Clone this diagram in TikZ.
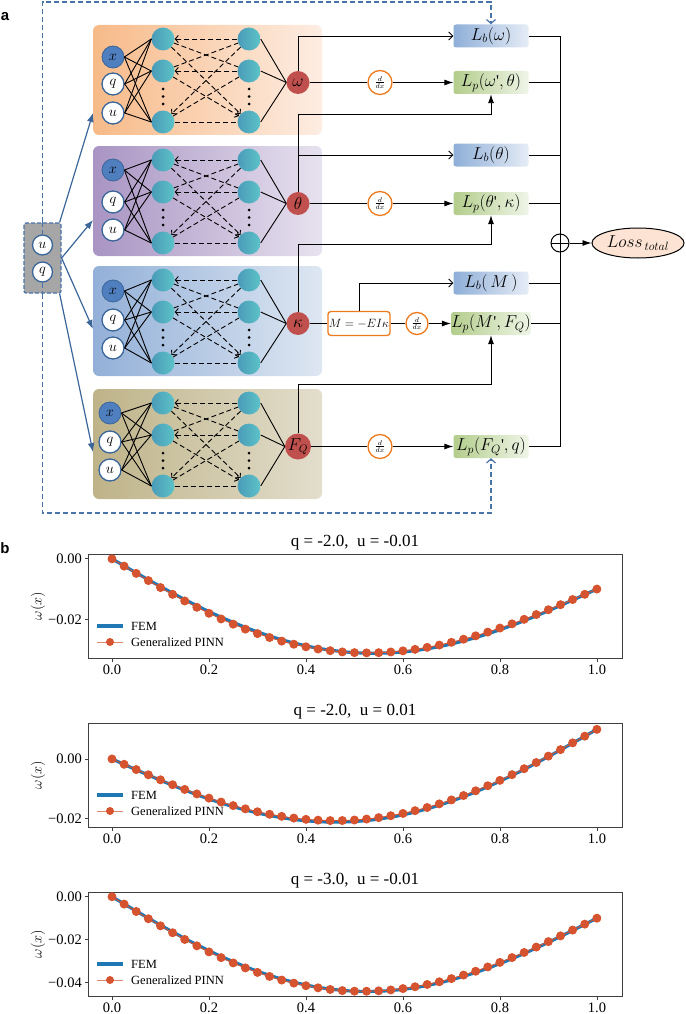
\documentclass[tikz,border=0pt]{standalone}
\usepackage{fontspec}
\setmainfont{Liberation Serif}
\newfontfamily\sansfont{Liberation Sans}
\usetikzlibrary{arrows.meta,shapes.geometric,calc}

\definecolor{orL}{HTML}{F7BA88}
\definecolor{orR}{HTML}{FDEDE3}
\definecolor{puL}{HTML}{A994C3}
\definecolor{puR}{HTML}{E7E2EF}
\definecolor{blL}{HTML}{93B0D8}
\definecolor{blR}{HTML}{DEE7F2}
\definecolor{olL}{HTML}{BEB388}
\definecolor{olR}{HTML}{E3DECD}
\definecolor{tealL}{HTML}{4A9BB8}
\definecolor{tealR}{HTML}{5CC3C8}
\definecolor{inblue}{HTML}{4F7FBF}
\definecolor{bord}{HTML}{3B6699}
\definecolor{outred}{HTML}{C0504D}
\definecolor{lbL}{HTML}{8FAFD8}
\definecolor{lbR}{HTML}{E5ECF6}
\definecolor{lpL}{HTML}{B3CD8C}
\definecolor{lpR}{HTML}{EFF5E7}
\definecolor{dorange}{HTML}{EE7A1E}
\definecolor{dashblue}{HTML}{4A73A8}
\definecolor{lossfill}{HTML}{FCE3D3}
\definecolor{femblue}{HTML}{1F77B4}
\definecolor{pinnred}{HTML}{D6532F}
\definecolor{boxgray}{HTML}{A6A6A6}
\definecolor{pfcol}{HTML}{404040}

\newcommand{\nnpanel}[9]{%
  % #1 prefix, #2 panel top, #3/#4 colours, #5 input x, #6-#8 input y, #9 output label
  \node[panelbox, left color=#3, right color=#4] (#1bg) at (207.5,{#2+55}) {};
  \foreach \k/\dy in {1/14,2/46,3/97} {
    \node[neuron] (#1a\k) at (163,{#2+\dy}) {};
    \node[neuron] (#1b\k) at (249,{#2+\dy}) {};
  }
  \foreach \dd in {64,71.5,79} {
    \fill (163,{#2+\dd}) circle (1.5pt);
    \fill (249,{#2+\dd}) circle (1.5pt);
  }
  \node[inx] (#1x) at (#5,#6) {$x$};
  \node[inw] (#1q) at (#5,#7) {$q$};
  \node[inw] (#1u) at (#5,#8) {$u$};
  \node[outn] (#1o) at (298,{#2+57.5}) {#9};
  \foreach \i in {x,q,u} {
    \foreach \k in {1,2,3} {
      \draw[conn] (#1\i.east) -- (#1a\k.west);
    }
  }
  \draw[dconn, dtip] (#1b1) -- (#1a1);
  \draw[dconn, dtip] (#1b2) -- (#1a2);
  \draw[dconn] (#1a3) -- (#1b3);
  \draw[dconn] (#1a1) -- (#1b2);
  \draw[dconn, dtip] (#1a1) -- (#1b3);
  \draw[dconn] (#1a2) -- (#1b1);
  \draw[dconn, dtip] (#1a2) -- (#1b3);
  \draw[dconn, dtip] (#1b1) -- (#1a3);
  \draw[dconn] (#1a3) -- (#1b2);
  \foreach \k in {1,2,3} {
    \draw[conn] (#1b\k.east) -- (#1o.west);
  }
}

\newcommand{\wplot}[8]{%
  % #1 frame top, #2 ymax, #3 px per unit, #4 q, #5 u, #6 title, #7 deviation, #8 y ticks
  \begin{scope}[declare function={PX(\s)=112+485*\s; PY(\v)=#1+((#2)-\v)*(#3);
      fw(\s)=(#4)/24*(\s*\s*\s*\s-2*\s*\s*\s+\s)+(#5)*\s; dv(\s)=#7;}]
    \node[ptitle] at (355,{#1-11}) {#6};
    \draw[pframe] (88,#1) rectangle (622,{#1+104});
    \foreach \tk in {0.0,0.2,0.4,0.6,0.8,1.0} {
      \draw[pframe] ({PX(\tk)},{#1+104}) -- ++(0,3.5);
      \node[ticklab, anchor=north] at ({PX(\tk)},{#1+111}) {\tk};
    }
    \foreach \vv/\ll in {#8} {
      \draw[pframe] (88,{PY(\vv)}) -- ++(-3.5,0);
      \node[ticklab, anchor=east] at (82,{PY(\vv)}) {\ll};
    }
    \node[ylab, rotate=90] at (38,{#1+52}) {$\omega(x)$};
    \draw[femline] plot[domain=0:1, samples=81] ({PX(\x)},{PY(fw(\x))});
    \draw[pinnline, mark=*, mark size=4pt, mark options={fill=pinnred, draw=pinnred}]
      plot[domain=0:1, samples=41] ({PX(\x)},{PY(fw(\x)+dv(\x))});
    \draw[femline] (97,{#1+72}) -- (123,{#1+72});
    \node[leg, anchor=west] at (131,{#1+72}) {FEM};
    \draw[pinnred!70, line width=0.9pt] (97,{#1+88}) -- (123,{#1+88});
    \fill[pinnred] (110,{#1+88}) circle (4pt);
    \node[leg, anchor=west] at (131,{#1+88}) {Generalized PINN};
  \end{scope}
}

\begin{document}
\begin{tikzpicture}[x=1pt, y=-1pt,
  panelbox/.style={draw=none, rounded corners=6pt, minimum width=229pt, minimum height=110pt, inner sep=0pt},
  neuron/.style={circle, inner sep=0pt, minimum size=23pt, left color=tealL, right color=tealR, draw=none},
  inx/.style={circle, inner sep=0pt, minimum size=22pt, fill=inblue, draw=bord, line width=0.8pt, font=\fontsize{15}{15}\selectfont},
  inw/.style={circle, inner sep=0pt, minimum size=22pt, fill=white, draw=bord, line width=1.3pt, font=\fontsize{15}{15}\selectfont},
  outn/.style={circle, inner sep=0pt, minimum size=23pt, fill=outred, font=\fontsize{16}{16}\selectfont},
  conn/.style={black, line width=0.9pt},
  dconn/.style={black, line width=0.9pt, dash pattern=on 5pt off 3pt},
  dtip/.style={-{Straight Barb[length=3pt,width=7pt]}},
  lbbox/.style={rounded corners=2.5pt, minimum width=75pt, minimum height=23pt, inner sep=0pt, left color=lbL, right color=lbR, font=\fontsize{16.5}{16.5}\selectfont},
  lpbox/.style={rounded corners=2.5pt, minimum width=75pt, minimum height=23pt, inner sep=0pt, left color=lpL, right color=lpR, font=\fontsize{16.5}{16.5}\selectfont},
  ddx/.style={circle, draw=dorange, line width=1.3pt, fill=white, minimum size=24pt, inner sep=0pt, font=\fontsize{10}{10}\selectfont},
  mbox/.style={draw=dorange, line width=1.3pt, rounded corners=3pt, minimum width=58pt, minimum height=24pt, fill=white, inner sep=1pt, font=\fontsize{11.5}{12}\selectfont},
  openarr/.style={conn, -{Straight Barb[length=4pt,width=8pt]}},
  fillarr/.style={conn, -{Latex[length=9pt,width=6pt]}},
  bluedash/.style={dashblue, line width=1.2pt, dash pattern=on 5pt off 3pt},
  bluearr/.style={bord, line width=1.2pt, -{Latex[length=9pt,width=7pt]}},
  pframe/.style={pfcol, line width=0.9pt},
  femline/.style={femblue, line width=3.2pt},
  pinnline/.style={pinnred, line width=0.9pt},
  ticklab/.style={font=\fontsize{14.5}{15}\selectfont, inner sep=0pt},
  ptitle/.style={font=\fontsize{17}{18}\selectfont, inner sep=0pt},
  leg/.style={font=\fontsize{12.5}{13}\selectfont, inner sep=0pt},
  ylab/.style={font=\fontsize{15}{15}\selectfont, inner sep=0pt},
  panlab/.style={font=\sansfont\bfseries\fontsize{15}{15}\selectfont, inner sep=0pt}
]
\useasboundingbox (0,0) rectangle (685,1014);

\node[panlab] (la) at (5,17) {a};
\node[panlab] (lb) at (5,548) {b};

% ---- networks ----
\nnpanel{p1}{25}{orL}{orR}{113}{57}{84}{113}{$\omega$}
\nnpanel{p2}{146}{puL}{puR}{113}{170}{202}{230}{$\theta$}
\nnpanel{p3}{266}{blL}{blR}{113}{291}{320}{348}{$\kappa$}
\nnpanel{p4}{389}{olL}{olR}{110}{413}{442}{470}{$F_Q$}

% ---- input box ----
\node[draw=dashblue, fill=boxgray, line width=1.2pt, dash pattern=on 4pt off 2pt, rounded corners=2pt,
      minimum width=37pt, minimum height=70pt, inner sep=0pt] (inbox) at (42.5,258) {};
\node[inw, minimum size=20pt] (iu) at (42.5,245) {$u$};
\node[inw, minimum size=20pt] (iq) at (42.5,272) {$q$};
\draw[bluedash] (inbox.north) -- (iu);
\draw[bluedash] (iq) -- (inbox.south);

\coordinate (a1) at (93,113);
\coordinate (a2) at (93,220);
\coordinate (a3) at (93,329);
\coordinate (a4) at (93,452);
\draw[bluearr] ([xshift=-2pt]inbox.north east) -- (a1);
\draw[bluearr] (inbox.east) -- (a2);
\draw[bluearr] (inbox.east) -- (a3);
\draw[bluearr] ([xshift=-2pt]inbox.south east) -- (a4);

% ---- loss boxes ----
\node[lbbox] (Lbw) at (491,36) {$L_b(\omega)$};
\node[lpbox] (Lpw) at (491,82.5) {$L_p(\omega\mbox{\textquotesingle},\theta)$};
\node[lbbox] (Lbt) at (491,155) {$L_b(\theta)$};
\node[lpbox] (Lpt) at (491,203.5) {$L_p(\theta\mbox{\textquotesingle},\kappa)$};
\node[lbbox] (LbM) at (491,283) {$L_b(\,M\,)$};
\node[lpbox] (LpM) at (491,323.5) {$L_p(M\mbox{\textquotesingle},F_Q)$};
\node[lpbox] (LpF) at (491,446.5) {$L_p(F_Q\mbox{\textquotesingle},q)$};

\node[ddx] (dw) at (380,82.5) {$\frac{d}{dx}$};
\node[ddx] (dt) at (380,203.5) {$\frac{d}{dx}$};
\node[ddx] (dF) at (380,446.5) {$\frac{d}{dx}$};
\node[ddx, minimum size=22pt] (dM) at (417,323.5) {$\frac{d}{dx}$};
\node[mbox] (Mb) at (359,323.5) {$M=-EI\kappa$};

% ---- connectors ----
\draw[openarr] (p1o.north) |- (Lbw.west);
\draw[conn] (p1o) -- (dw);
\draw[fillarr] (dw) -- (Lpw);
\coordinate (c2) at (491,114);
\draw[fillarr] (p2o.north) |- (c2) -- (Lpw.south);
\draw[openarr] (p2o.north |- Lbt.west) -- (Lbt.west);
\draw[conn] (p2o) -- (dt);
\draw[fillarr] (dt) -- (Lpt);
\coordinate (c3) at (491,244);
\draw[fillarr] (p3o.north) |- (c3) -- (Lpt.south);
\draw[conn] (p3o) -- (Mb);
\draw[openarr] (Mb.north) |- (LbM.west);
\draw[conn] (Mb) -- (dM);
\draw[fillarr] (dM) -- (LpM);
\coordinate (c4) at (491,384);
\draw[fillarr] (p4o.north) |- (c4) -- (LpM.south);
\draw[conn] (p4o) -- (dF);
\draw[fillarr] (dF) -- (LpF);

% dashed feedback lines
\coordinate (dtop) at (491,2);
\coordinate (dbot) at (491,513);
\draw[bluedash, -{Straight Barb[length=4pt,width=9pt]}] (inbox.north) |- (dtop) -- (Lbw.north);
\draw[bluedash, -{Straight Barb[length=4pt,width=9pt]}] (inbox.south) |- (dbot) -- (LpF.south);

% sum
\coordinate (vt) at (560,36);
\coordinate (vb) at (560,446.5);
\foreach \n in {Lbw,Lpw,Lbt,Lpt,LbM,LpM,LpF} {
  \draw[conn] (\n.east) -- (\n.east -| vt);
}
\draw[conn] (vt) -- (vb);
\node[circle, draw, line width=1pt, fill=white, minimum size=18pt, inner sep=0pt,
  path picture={\draw[line width=1pt] (path picture bounding box.north) -- (path picture bounding box.south)
                (path picture bounding box.west) -- (path picture bounding box.east);}] (plus) at (560,243) {};
\node[ellipse, draw, line width=1pt, fill=lossfill, minimum width=92pt, minimum height=30pt, inner sep=0pt,
  font=\fontsize{18}{18}\selectfont] (loss) at (638,243) {$Loss_{\,total}$};
\draw[fillarr] (plus) -- (loss);

% ---- plots ----
\wplot{554}{0.0016}{3023}{-2}{-0.01}{q = -2.0,\enspace u = -0.01}{-0.0006*sin(360*\s)}{0/0.00,-0.02/−0.02}
\wplot{723}{0.0121}{2971}{-2}{0.01}{q = -2.0,\enspace u = 0.01}{0.0005*sin(180*\s)}{0/0.00,-0.02/−0.02}
\wplot{892}{0.0022}{2144}{-3}{-0.01}{q = -3.0,\enspace u = -0.01}{-0.0006*sin(360*\s)}{0/0.00,-0.02/−0.02,-0.04/−0.04}

\end{tikzpicture}
\end{document}
